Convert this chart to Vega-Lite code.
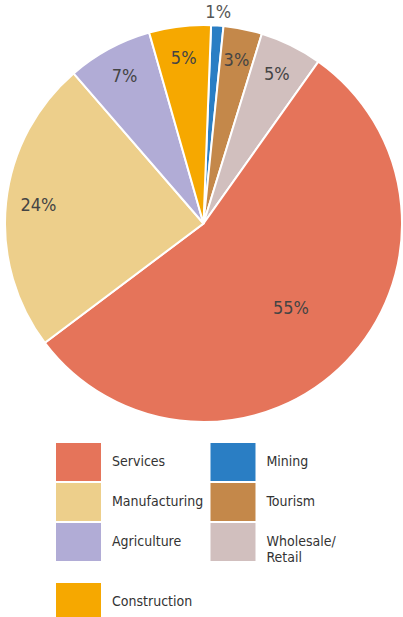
{
  "$schema": "https://vega.github.io/schema/vega-lite/v6.json",
  "width": 407,
  "height": 447,
  "autosize": {"type": "none"},
  "padding": {"left": 0, "top": 0, "right": 0, "bottom": 170},
  "background": "white",
  "config": {"view": {"stroke": null}},
  "data": {"values": [
    {"sector": "Mining", "share": 1.0, "label": "1%", "rank": 1},
    {"sector": "Tourism", "share": 3.14, "label": "3%", "rank": 2},
    {"sector": "Wholesale/Retail", "share": 5.07, "label": "5%", "rank": 3},
    {"sector": "Services", "share": 54.9, "label": "55%", "rank": 4},
    {"sector": "Manufacturing", "share": 23.9, "label": "24%", "rank": 5},
    {"sector": "Agriculture", "share": 6.94, "label": "7%", "rank": 6},
    {"sector": "Construction", "share": 5.02, "label": "5%", "rank": 7}
  ]},
  "encoding": {
    "theta": {"field": "share", "type": "quantitative", "stack": true, "scale": {"range": [0.0382, 6.3214]}},
    "order": {"field": "rank", "type": "quantitative"}
  },
  "layer": [
    {
      "mark": {"type": "arc", "outerRadius": 198.5, "stroke": "white", "strokeWidth": 2},
      "encoding": {
        "color": {
          "field": "sector",
          "type": "nominal",
          "scale": {
            "domain": ["Services", "Manufacturing", "Agriculture", "Construction", "Mining", "Tourism", "Wholesale/Retail"],
            "range": ["#E5745A", "#EDCF8B", "#B1ACD6", "#F6A800", "#2A7EC4", "#C4884A", "#D1BFBE"]
          },
          "legend": {
            "orient": "none",
            "legendX": 59.5,
            "legendY": 443,
            "columns": 2,
            "title": null,
            "symbolType": "M-1.184,-1H1.184V1H-1.184Z",
            "symbolSize": 1444,
            "symbolStrokeWidth": 0,
            "symbolOpacity": 1,
            "labelFont": "DejaVu Sans Condensed",
            "labelFontSize": 14,
            "labelColor": "#333333",
            "labelOffset": 14.5,
            "labelLimit": 300,
            "rowPadding": 2,
            "columnPadding": 6.5,
            "labelExpr": "datum.label == 'Wholesale/Retail' ? ['Wholesale/', ' ', 'Retail'] : datum.label"
          }
        }
      }
    },
    {
      "mark": {"type": "text", "radius": 166, "font": "DejaVu Sans Condensed", "fontSize": 18, "color": "#444444"},
      "encoding": {
        "text": {"condition": {"test": "datum.sector != 'Services' && datum.sector != 'Mining'", "field": "label"}, "value": ""}
      }
    },
    {
      "mark": {"type": "text", "radius": 122, "font": "DejaVu Sans Condensed", "fontSize": 18, "color": "#444444"},
      "encoding": {
        "text": {"condition": {"test": "datum.sector == 'Services'", "field": "label"}, "value": ""}
      }
    },
    {
      "mark": {"type": "text", "radius": 211, "font": "DejaVu Sans Condensed", "fontSize": 18, "color": "#555555"},
      "encoding": {
        "text": {"condition": {"test": "datum.sector == 'Mining'", "field": "label"}, "value": ""}
      }
    }
  ]
}
